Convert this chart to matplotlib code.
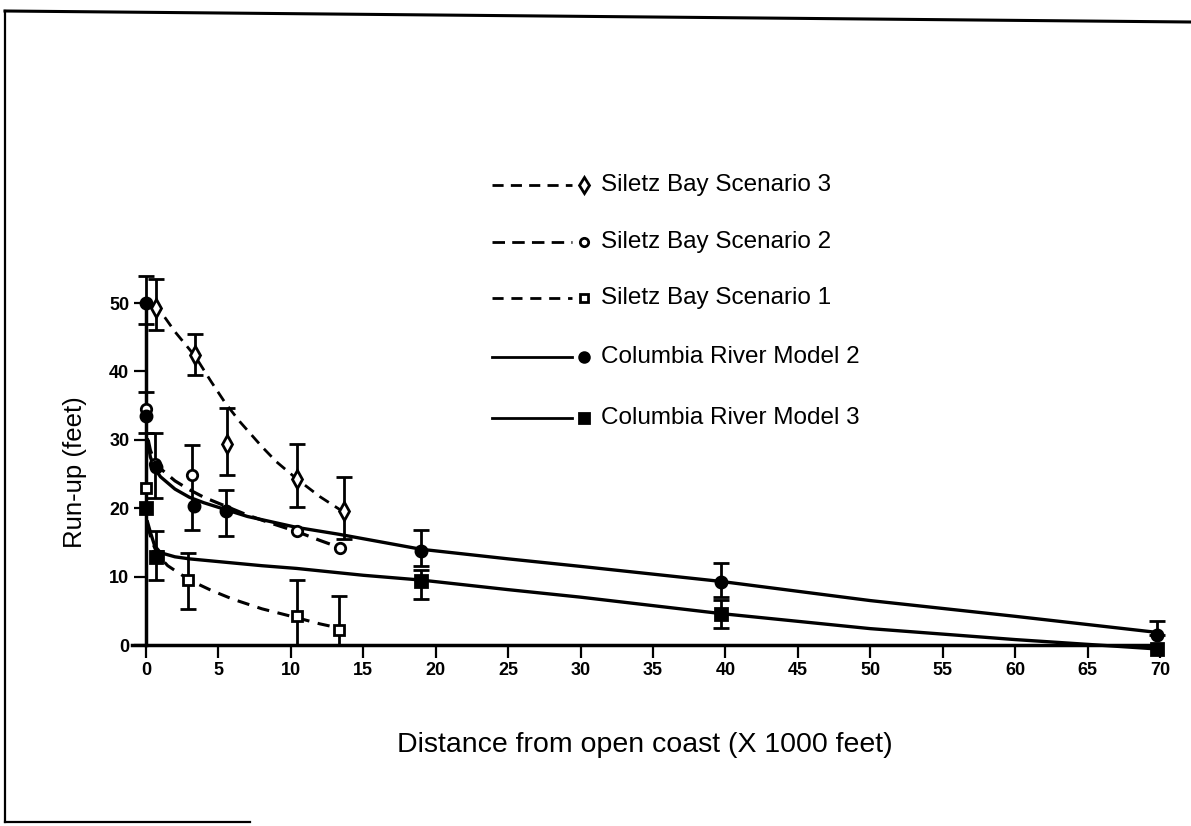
import numpy as np
import matplotlib
matplotlib.use("Agg")
import matplotlib.pyplot as plt

# ---- data (x in 1000 ft, y in ft) ----
# Siletz Bay Scenario 3 (open diamonds)
s3_x = [0.7, 3.4, 5.6, 10.4, 13.7]
s3_y = [49.3, 42.4, 29.4, 24.3, 19.6]
s3_lo = [46, 39.5, 24.8, 20.2, 15.5]
s3_hi = [53.5, 45.4, 34.6, 29.4, 24.5]
s3_fit_x = [0.5, 1, 2, 3.4, 4.5, 5.5, 6.5, 8, 9, 10.4, 12, 13.6]
s3_fit_y = [50, 48.8, 45.8, 42.2, 38.5, 35.3, 32.6, 29, 26.8, 24.3, 21.7, 19.5]

# Siletz Bay Scenario 2 (open circles)
s2_x = [0, 0.6, 3.2, 10.4, 13.4]
s2_y = [34.5, 26.5, 24.8, 16.7, 14.2]
s2_lo = [31, 21.5, 16.8, np.nan, np.nan]
s2_hi = [37, 31, 29.2, np.nan, np.nan]
s2_fit_x = [0.15, 0.3, 0.6, 1, 2, 3, 4, 5.5, 7, 8.5, 10.4, 12, 13.3]
s2_fit_y = [30, 28.5, 26.8, 25.8, 24, 22.7, 21.6, 20.3, 19, 17.9, 16.6, 15.3, 14.3]

# Siletz Bay Scenario 1 (open squares)
s1_x = [0, 0.8, 2.9, 10.4, 13.3]
s1_y = [23, 13, 9.5, 4.3, 2.2]
s1_lo = [np.nan, np.nan, 5.2, 0, 0]
s1_hi = [np.nan, np.nan, 13.4, 9.5, 7.2]
s1_fit_x = [0.1, 0.4, 0.8, 1.5, 3, 4.5, 6, 8, 10.4, 12, 13.3]
s1_fit_y = [17.5, 15.2, 13.2, 11.6, 9.5, 8, 6.7, 5.3, 4, 3.1, 2.5]

# Columbia River Model 2 (filled circles)
c2_x = [0, 0, 0.7, 3.3, 5.5, 19, 39.7, 69.8]
c2_y = [50, 33.5, 26, 20.3, 19.6, 13.8, 9.2, 1.5]
c2_lo = [47, np.nan, np.nan, np.nan, 16, 11.5, 7, 1.5]
c2_hi = [54, np.nan, np.nan, np.nan, 22.6, 16.8, 12, 3.5]
c2_fit_x = [0.1, 0.3, 0.6, 1, 2, 3, 4, 5.5, 7, 10.4, 13.3, 19, 25, 30, 39.7, 50, 60, 70]
c2_fit_y = [30, 27.5, 25.8, 24.6, 22.8, 21.6, 20.8, 19.8, 18.8, 17.2, 16.2, 14, 12.6, 11.5, 9.3, 6.5, 4.2, 1.8]

# Columbia River Model 3 (filled squares)
c3_x = [0, 0.7, 19, 39.7, 69.8]
c3_y = [20, 12.9, 9.4, 4.5, -0.6]
c3_lo = [np.nan, 9.5, 6.8, 2.5, np.nan]
c3_hi = [np.nan, 16.6, 11, 6.6, np.nan]
c3_fit_x = [0.1, 0.3, 0.6, 1, 2, 3, 5, 8, 10.4, 15, 19, 25, 30, 39.7, 50, 60, 70]
c3_fit_y = [18, 16.5, 14.5, 13.5, 12.9, 12.6, 12.2, 11.6, 11.2, 10.2, 9.5, 8.1, 7, 4.6, 2.4, 0.8, -0.6]

legend_labels = ["Siletz Bay Scenario 3", "Siletz Bay Scenario 2", "Siletz Bay Scenario 1",
                 "Columbia River Model 2", "Columbia River Model 3"]
x_ticks = list(range(0, 75, 5))
y_ticks = [0, 10, 20, 30, 40, 50]

plt.rcParams["font.family"] = ["Liberation Sans", "DejaVu Sans"]

fig = plt.figure(figsize=(11.91, 8.26), dpi=100)
ax = fig.add_axes([0.09826, 0.2025, 0.9001, 0.4969])
ax.set_xlim(-2, 72)
ax.set_ylim(-2, 58)

series = [
    (s3_x, s3_y, s3_lo, s3_hi, s3_fit_x, s3_fit_y, "d", "white", (4, 2.6), 2.0, 9),
    (s2_x, s2_y, s2_lo, s2_hi, s2_fit_x, s2_fit_y, "o", "white", (4.5, 2.6), 2.3, 7.5),
    (s1_x, s1_y, s1_lo, s1_hi, s1_fit_x, s1_fit_y, "s", "white", (4, 2.8), 2.2, 7.5),
    (c2_x, c2_y, c2_lo, c2_hi, c2_fit_x, c2_fit_y, "o", "black", None, 2.4, 8),
    (c3_x, c3_y, c3_lo, c3_hi, c3_fit_x, c3_fit_y, "s", "black", None, 2.4, 8),
]

for x, y, lo, hi, fx, fy, mk, fc, dash, lw, ms in series:
    x = np.array(x, float)
    y = np.array(y, float)
    yerr = np.vstack([y - np.array(lo, float), np.array(hi, float) - y])
    ax.errorbar(x, y, yerr=yerr, fmt="none", ecolor="black", elinewidth=2,
                capsize=6, capthick=2, zorder=3)
    line, = ax.plot(fx, fy, color="black", lw=lw, zorder=2)
    if dash is not None:
        line.set_dashes(dash)
    ax.plot(x, y, linestyle="none", marker=mk, markersize=ms, markerfacecolor=fc,
            markeredgecolor="black", markeredgewidth=2, zorder=4)

# axes styling
for side in ["top", "right"]:
    ax.spines[side].set_visible(False)
ax.spines["left"].set_position(("data", 0))
ax.spines["bottom"].set_position(("data", 0))
ax.spines["left"].set_bounds(0, 50)
ax.spines["bottom"].set_bounds(-1, 70)
ax.spines["left"].set_linewidth(2.5)
ax.spines["bottom"].set_linewidth(2.5)
ax.set_xticks(x_ticks)
ax.set_yticks(y_ticks)
ax.tick_params(direction="out", length=9, width=1.6, pad=3)
for lab in ax.get_xticklabels() + ax.get_yticklabels():
    lab.set_family(["Liberation Sans Narrow", "Liberation Sans", "DejaVu Sans"])
    lab.set_fontweight("bold")
    lab.set_fontsize(13)
ax.patch.set_visible(False)

# overlay in pixel coordinates for frame, labels and legend
ov = fig.add_axes([0, 0, 1, 1], zorder=5)
ov.set_xlim(0, 1191)
ov.set_ylim(826, 0)
ov.axis("off")
ov.patch.set_visible(False)
ov.plot([5, 1191], [11, 22], color="black", lw=2.2)
ov.plot([5, 5], [11, 822], color="black", lw=1.6)
ov.plot([5, 250], [822, 822], color="black", lw=1.6)

ov.text(75, 472, "Run-up (feet)", rotation=90, ha="center", va="center", fontsize=18.5)
ov.text(645, 745, "Distance from open coast (X 1000 feet)", ha="center", va="center", fontsize=20.5)

leg_styles = [("d", "white", (4, 2.6), 8), ("o", "white", (4.5, 2.6), 6),
              ("s", "white", (4, 2.8), 6), ("o", "black", None, 7), ("s", "black", None, 7)]
rows = [185, 242, 298, 357, 418]
for (mk, fc, dash, ms), yy, label in zip(leg_styles, rows, legend_labels):
    ln, = ov.plot([492, 572], [yy, yy], color="black", lw=2)
    if dash is not None:
        ln.set_dashes(dash)
    ov.plot([584], [yy], marker=mk, markersize=ms, markerfacecolor=fc,
            markeredgecolor="black", markeredgewidth=2, linestyle="none")
    ov.text(601, yy, label, ha="left", va="center", fontsize=17.5)

fig.savefig("out.png", dpi=100)
